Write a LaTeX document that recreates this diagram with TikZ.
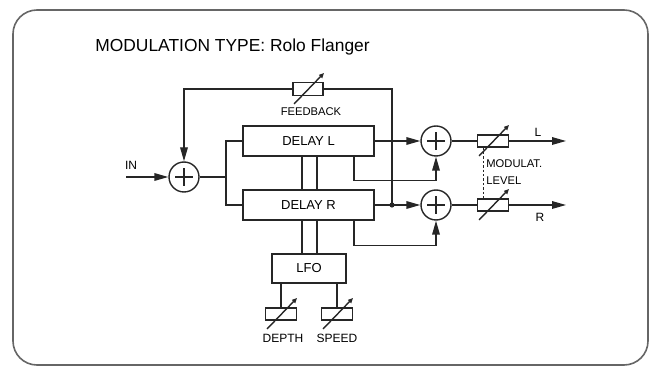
\documentclass[tikz,border=0pt]{standalone}
\usepackage{fontspec}
\setmainfont{Liberation Sans}
\usetikzlibrary{arrows.meta,calc}

\tikzset{
  line/.style={line width=0.7pt, draw=black!85},
  sig/.style={line, -{Triangle[length=7pt,width=3.8pt]}},
  box/.style={line, fill=white, inner sep=0pt, font=\fontsize{6.5}{7}\selectfont},
  summer/.style={line, circle, fill=white, minimum size=15pt, inner sep=0pt,
    path picture={\draw[line] (path picture bounding box.center) +(-4.5pt,0) -- +(4.5pt,0)
      (path picture bounding box.center) +(0,-4.5pt) -- +(0,4.5pt);}},
  varres/.style={line, fill=white, inner sep=0pt, minimum width=15.5pt, minimum height=6pt},
  knob/.style={line, -{Triangle[length=2.5pt,width=2.2pt]}},
  lbl/.style={inner sep=0pt, font=\fontsize{6}{7}\selectfont},
  frame/.style={line width=0.8pt, draw=black!60, rounded corners=12pt}
}

% diagonal adjuster through a resistor
\newcommand{\varknob}[1]{\draw[knob] ($(#1)+(-14,15)$) -- ($(#1)+(16,-16)$);}

\begin{document}
\begin{tikzpicture}[x=0.5pt, y=-0.5pt]
\useasboundingbox (0,0) rectangle (652,368);
\draw[frame] (13,10) rectangle (648,365);
\node[anchor=west, inner sep=0pt, font=\fontsize{8.7}{10}\selectfont] (title) at (95,47) {MODULATION TYPE: Rolo Flanger};

% input and summer
\node[summer] (sumin) at (184,177) {};
\coordinate (in) at (126,177);
\node[lbl] (inlbl) at (131,165) {IN};
\draw[sig] (in) -- (sumin);
\coordinate (split) at (226,177);

% delays and lfo
\node[box, minimum width=65.5pt, minimum height=15pt] (dl) at (308.5,141) {DELAY L};
\node[box, minimum width=65.5pt, minimum height=15pt] (dr) at (308.5,205) {DELAY R};
\node[box, minimum width=37pt, minimum height=14.5pt] (lfo) at (309,268.5) {LFO};
\draw[line] (sumin) -- (split);
\draw[line] (dl.west) -| (split) |- (dr.west);
\draw[line] ([xshift=-3.5pt]lfo.north) -- ([xshift=-3.5pt]lfo.north |- dr.south);
\draw[line] ([xshift=4pt]lfo.north) -- ([xshift=4pt]lfo.north |- dr.south);
\draw[line] ([xshift=-3.5pt]lfo.north |- dr.north) -- ([xshift=-3.5pt]lfo.north |- dl.south);
\draw[line] ([xshift=4pt]lfo.north |- dr.north) -- ([xshift=4pt]lfo.north |- dl.south);

% depth and speed
\node[varres] (depth) at (281,314) {};
\node[varres] (speed) at (337,314) {};
\draw[line] (depth.north) -- (depth.north |- lfo.south);
\draw[line] (speed.north) -- (speed.north |- lfo.south);
\varknob{depth}
\varknob{speed}
\node[lbl] (depthlbl) at (283,338) {DEPTH};
\node[lbl] (speedlbl) at (337,338) {SPEED};

% mixers
\node[summer] (suml) at (436,141) {};
\node[summer] (sumr) at (436,205) {};
\draw[sig] (dl.east) -- (suml.west);
\draw[sig] (dr.east) -- (sumr.west);
\draw[sig] ([xshift=22.75pt]dl.south) |- ++(0,24) -| (suml.south);
\draw[sig] ([xshift=22.75pt]dr.south) |- ++(0,25) -| (sumr.south);

% feedback
\node[varres, minimum width=15pt, minimum height=6.5pt] (fb) at (308,89) {};
\coordinate (fbtap) at (392,205);
\fill[black!85] (fbtap) circle (1.3pt);
\draw[line] (fbtap) |- (fb.east);
\draw[sig] (fb.west) -| (sumin.north);
\varknob{fb}
\node[lbl, font=\fontsize{5.6}{7}\selectfont] (fblbl) at (311,112) {FEEDBACK};

% modulation level
\node[varres] (resl) at (493,141) {};
\node[varres] (resr) at (493,205) {};
\coordinate (outl) at (566,141);
\coordinate (outr) at (566,205);
\draw[line] (suml.east) -- (resl.west);
\draw[line] (sumr.east) -- (resr.west);
\draw[sig] (resl.east) -- (outl);
\draw[sig] (resr.east) -- (outr);
\draw[line, line width=0.5pt, dash pattern=on 1.2pt off 1pt] ([xshift=-5pt]resl.south) -- ([xshift=-5pt]resr.north);
\varknob{resl}
\varknob{resr}
\node[lbl] (llbl) at (538,132) {L};
\node[lbl] (rlbl) at (540,217) {R};
\node[lbl, anchor=west, align=left, font=\fontsize{5.6}{8.5}\selectfont] (modlbl) at (486,172) {MODULAT.\\LEVEL};
\end{tikzpicture}
\end{document}
